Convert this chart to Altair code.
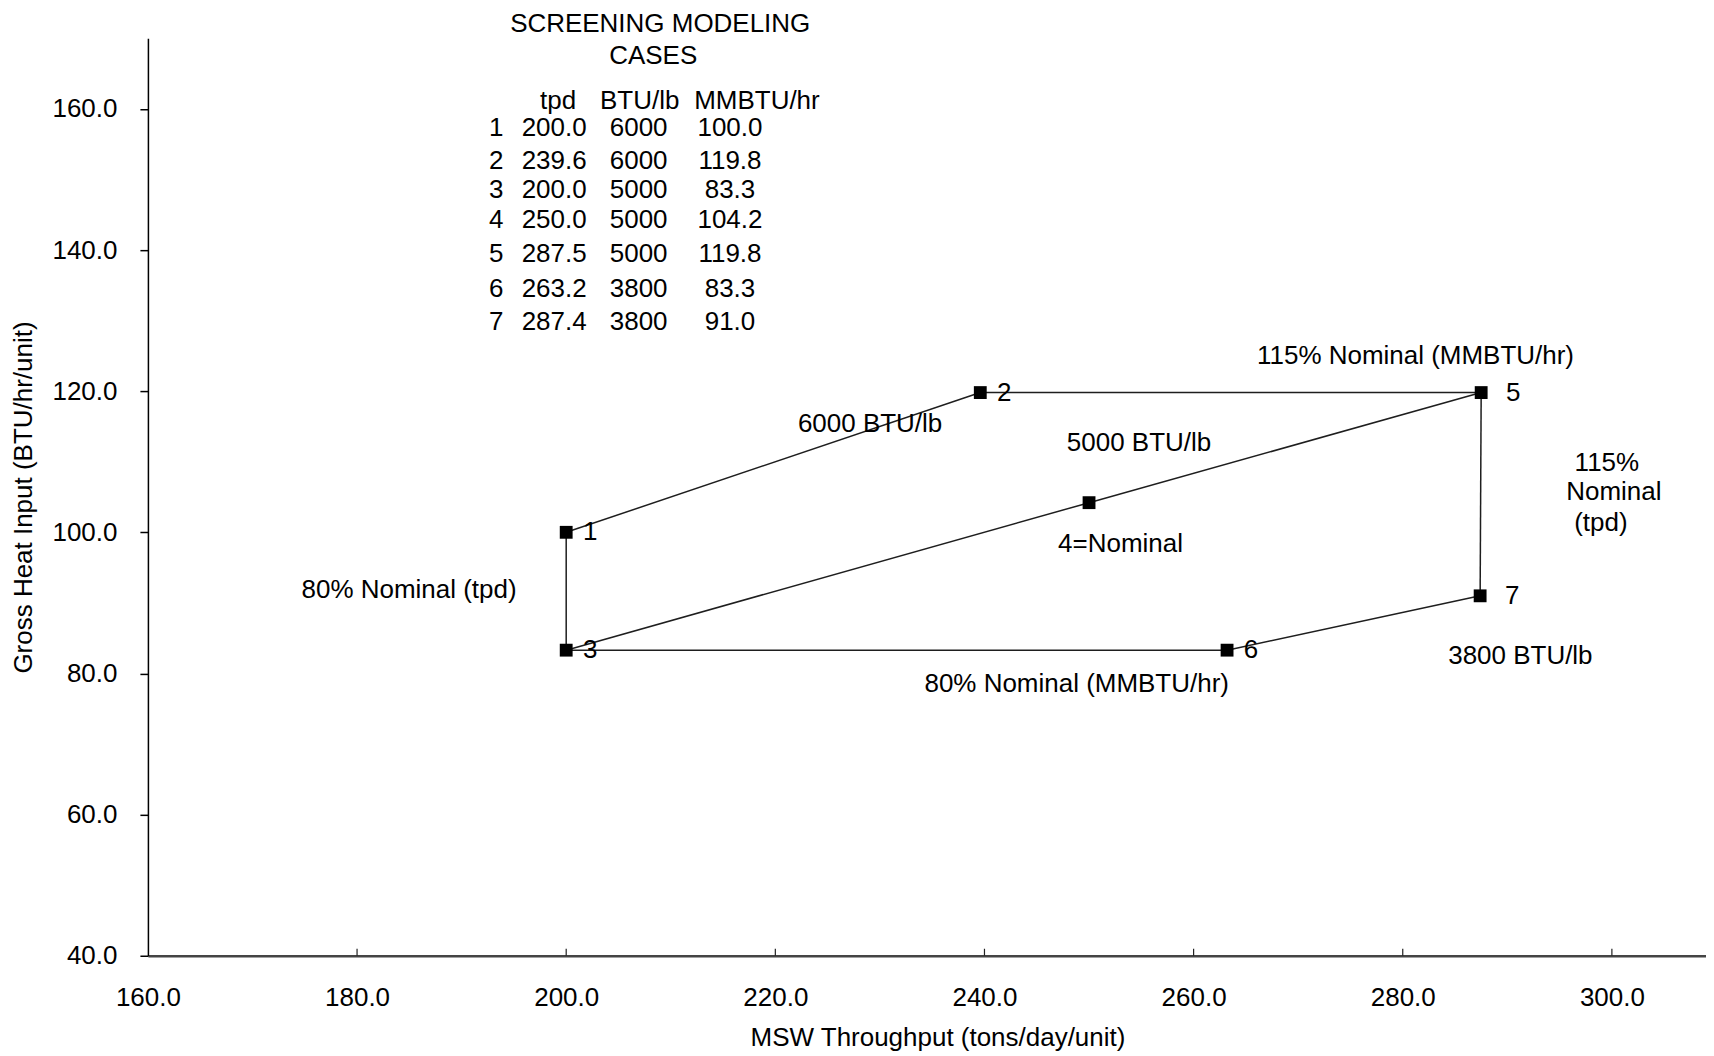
import altair as alt
import pandas as pd

# ---- data -----------------------------------------------------------------
cases = [1, 2, 3, 4, 5, 6, 7]
tpd = [200.0, 239.6, 200.0, 250.0, 287.5, 263.2, 287.4]
btu_lb = [6000, 6000, 5000, 5000, 5000, 3800, 3800]
mmbtu_hr = [100.0, 119.8, 83.3, 104.2, 119.8, 83.3, 91.0]

edge_from = [1, 2, 5, 7, 6, 3, 3, 4]
edge_to = [2, 5, 7, 6, 3, 1, 4, 5]

x_ticks = [160, 180, 200, 220, 240, 260, 280, 300]
y_ticks = [40, 60, 80, 100, 120, 140, 160]

annot_text = ["6000 BTU/lb", "115% Nominal (MMBTU/hr)", "5000 BTU/lb",
              "115%", "Nominal", "(tpd)", "4=Nominal", "80% Nominal (tpd)",
              "3800 BTU/lb", "80% Nominal (MMBTU/hr)"]
annot_x = [229.06, 281.22, 254.78, 299.52, 300.19, 298.95, 253.01, 184.97, 291.25, 248.82]
annot_y = [115.28, 125.01, 112.62, 109.83, 105.65, 101.32, 98.37, 91.87, 82.42, 78.56]

table_title = ["SCREENING MODELING", "CASES"]
table_header = ["tpd", "BTU/lb", "MMBTU/hr"]

# ---- layout (data-space anchors of the annotation table) -------------------
title_x = [208.99, 208.32]
title_y = [172.05, 167.55]
header_x = [199.23, 207.03, 218.24]
header_y = 161.08
col_x = [193.31, 198.85, 206.93, 215.66]
row_y = [157.31, 152.58, 148.47, 144.22, 139.50, 134.41, 129.77]

FONT = "Liberation Sans"
FS = 26
W, H = 1559, 918

xs = alt.Scale(domain=[160, 309], nice=False, zero=False)
ys = alt.Scale(domain=[40, 170], nice=False, zero=False)

pts = pd.DataFrame({"case": cases, "tpd": tpd, "btu": btu_lb, "mmbtu": mmbtu_hr})
lk = {c: (t, m) for c, t, m in zip(cases, tpd, mmbtu_hr)}
edges = pd.DataFrame({
    "x": [lk[a][0] for a in edge_from], "y": [lk[a][1] for a in edge_from],
    "x2": [lk[b][0] for b in edge_to], "y2": [lk[b][1] for b in edge_to],
})

# table texts
t_text, t_x, t_y = [], [], []
for s, x, y in zip(table_title, title_x, title_y):
    t_text.append(s); t_x.append(x); t_y.append(y)
for s, x in zip(table_header, header_x):
    t_text.append(s); t_x.append(x); t_y.append(header_y)
for c, t, b, m, y in zip(cases, tpd, btu_lb, mmbtu_hr, row_y):
    for s, x in zip([str(c), f"{t:.1f}", str(b), f"{m:.1f}"], col_x):
        t_text.append(s); t_x.append(x); t_y.append(y)
table = pd.DataFrame({"text": t_text, "x": t_x, "y": t_y})
annots = pd.DataFrame({"text": annot_text, "x": annot_x, "y": annot_y})

X = lambda f: alt.X(f, type="quantitative", scale=xs)
Y = lambda f: alt.Y(f, type="quantitative", scale=ys)

axes_layer = alt.Chart(pts).mark_point(opacity=0).encode(
    x=alt.X("tpd:Q", scale=xs, axis=alt.Axis(
        values=x_ticks, format=".1f", title="MSW Throughput (tons/day/unit)",
        grid=False, ticks=False, tickSize=0, labelPadding=29, labelFlush=False,
        domainColor="#444444", domainWidth=2.5,
        labelFontSize=FS, labelColor="black", labelFont=FONT,
        titleFontSize=FS, titleFontWeight="normal", titleColor="black", titleFont=FONT,
        titleX=790, titleY=82, titleAlign="center", titleBaseline="middle")),
    y=alt.Y("mmbtu:Q", scale=ys, axis=alt.Axis(
        values=y_ticks, format=".1f", title="Gross Heat Input (BTU/hr/unit)",
        grid=False, ticks=True, tickSize=8, tickColor="black", tickWidth=1.5,
        labelPadding=23, labelFlush=False, domainColor="black", domainWidth=1.5,
        labelFontSize=FS, labelColor="black", labelFont=FONT,
        titleFontSize=FS, titleFontWeight="normal", titleColor="black", titleFont=FONT,
        titleX=-124, titleY=H / 2, titleAlign="center", titleBaseline="middle")),
)

xtick_layer = alt.Chart(pd.DataFrame({"t": x_ticks[1:]})).mark_rule(
    color="#222222", strokeWidth=1.2).encode(
    x=X("t"), y=alt.value(H), y2=alt.value(H - 7))

edge_layer = alt.Chart(edges).mark_rule(color="#1e1e1e", strokeWidth=1.5).encode(
    x=X("x"), y=Y("y"), x2="x2", y2="y2")

point_layer = alt.Chart(pts).mark_point(
    shape="square", filled=True, size=165, color="black", opacity=1).encode(
    x=X("tpd"), y=Y("mmbtu"))

lab_near = alt.Chart(pts[pts.case.isin([1, 2, 3, 6])]).mark_text(
    font=FONT, fontSize=FS, align="center", baseline="middle", dx=24, color="black").encode(
    x=X("tpd"), y=Y("mmbtu"), text="case:N")
lab_far = alt.Chart(pts[pts.case.isin([5, 7])]).mark_text(
    font=FONT, fontSize=FS, align="center", baseline="middle", dx=32, color="black").encode(
    x=X("tpd"), y=Y("mmbtu"), text="case:N")

annot_layer = alt.Chart(annots).mark_text(
    font=FONT, fontSize=FS, align="center", baseline="middle", color="black").encode(
    x=X("x"), y=Y("y"), text="text:N")

table_layer = alt.Chart(table).mark_text(
    font=FONT, fontSize=FS, align="center", baseline="middle", color="black").encode(
    x=X("x"), y=Y("y"), text="text:N")

chart = alt.layer(
    axes_layer, xtick_layer, edge_layer, point_layer, lab_near, lab_far,
    annot_layer, table_layer
).properties(
    width=W, height=H,
    autosize=alt.AutoSizeParams(type="none"),
    padding={"left": 140, "top": 30, "right": 0, "bottom": 98},
    background="white",
).configure_view(stroke=None)

chart.save("out.html", embed_options={"renderer": "svg", "actions": False})
